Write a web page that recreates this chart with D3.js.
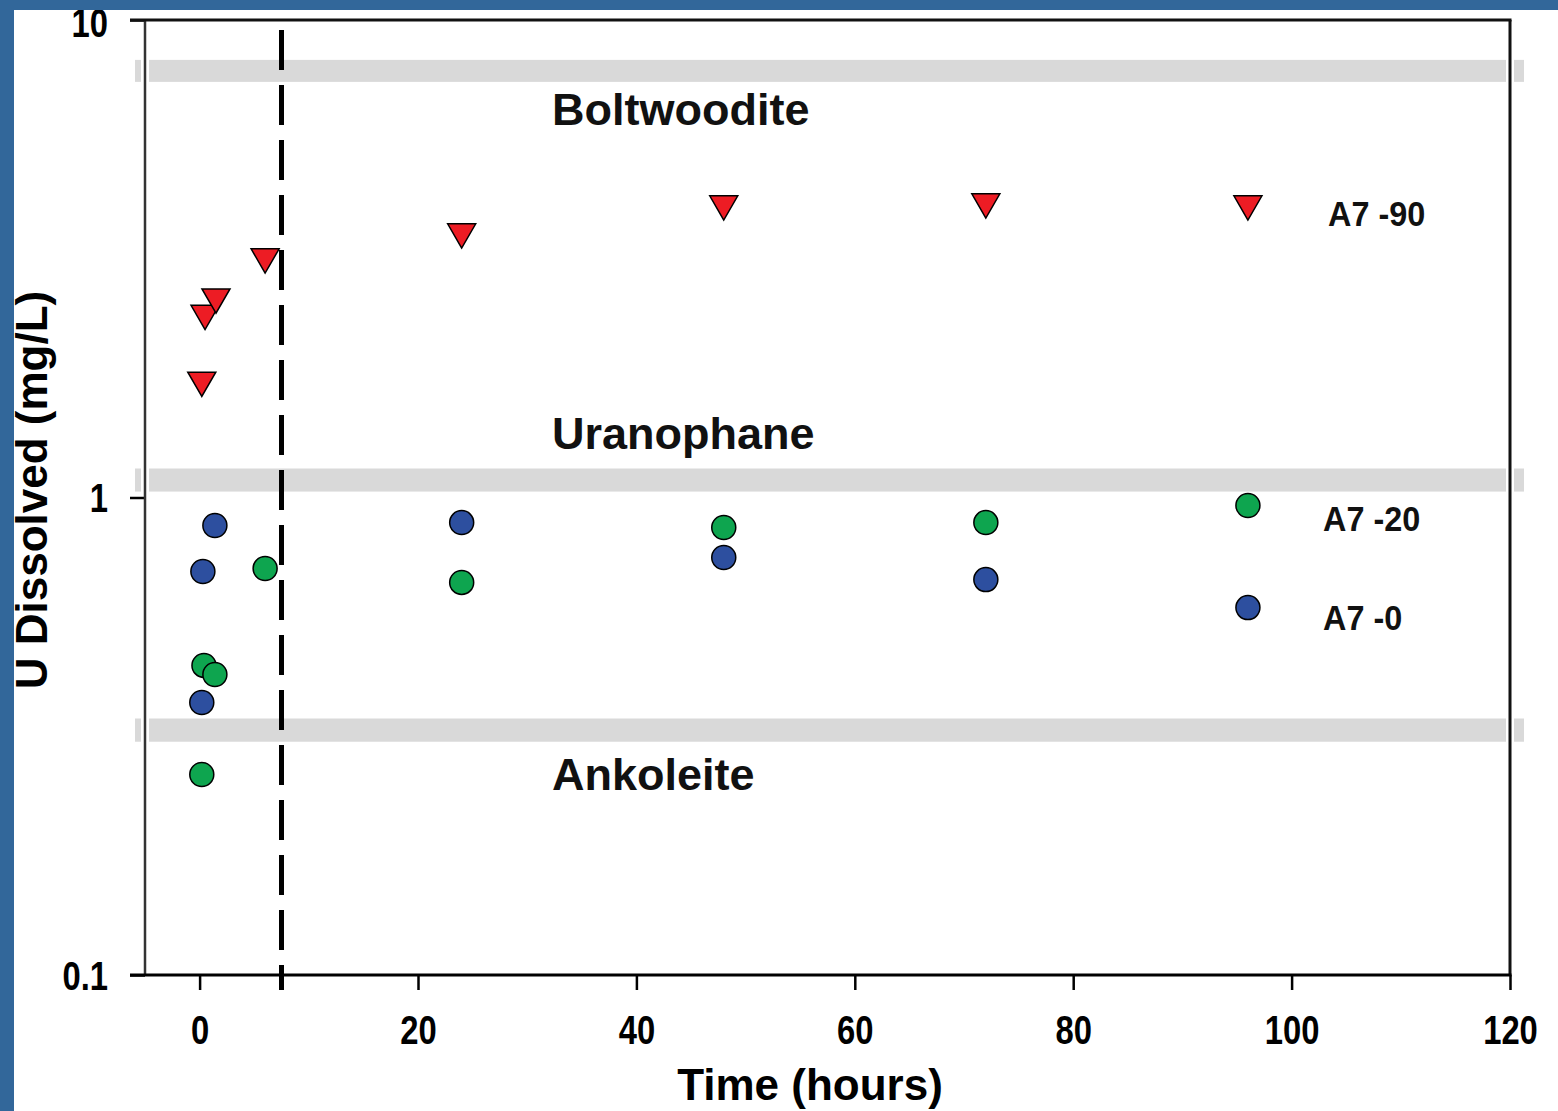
<!DOCTYPE html>
<html>
<head>
<meta charset="utf-8">
<script src="https://cdn.jsdelivr.net/npm/d3@7"></script>
<style>
  html, body { margin: 0; padding: 0; background: #ffffff; }
  svg { display: block; }
</style>
</head>
<body>
<svg id="chart" width="1558" height="1111"></svg>
<script>
// ---------- data ----------
const xTicks = [0, 20, 40, 60, 80, 100, 120];
const yTicks = [0.1, 1, 10];
const yTickLabels = ["0.1", "1", "10"];

const timeA90 = [0.2, 0.5, 1.5, 6, 24, 48, 72, 96];
const uA90    = [1.76, 2.43, 2.63, 3.19, 3.60, 4.12, 4.16, 4.12];

const timeA20 = [0.2, 0.4, 1.4, 6, 24, 48, 72, 96];
const uA20    = [0.263, 0.445, 0.426, 0.710, 0.664, 0.865, 0.886, 0.962];

const timeA0  = [0.2, 0.3, 1.4, 24, 48, 72, 96];
const uA0     = [0.372, 0.700, 0.874, 0.886, 0.749, 0.673, 0.588];

const bandNames = ["Boltwoodite", "Uranophane", "Ankoleite"];
const bandLow   = [7.42, 1.029, 0.308];
const bandHigh  = [8.25, 1.15, 0.3445];

const seriesNames = ["A7 -90", "A7 -20", "A7 -0"];
const seriesLabelY = [3.94, 0.908, 0.561];

const dividerTime = 7.5;

// ---------- setup ----------
const svg = d3.select("#chart");
const x = d3.scaleLinear().domain([-5, 120]).range([145, 1510]);
const y = d3.scaleLog().domain([0.1, 10]).range([975, 20]);

const boldFont = "'Liberation Sans', Arial, sans-serif";

// bands
bandNames.forEach((name, i) => {
  svg.append("rect")
    .attr("x", x(-5) - 10)
    .attr("width", x(120) + 14 - (x(-5) - 10))
    .attr("y", y(bandHigh[i]))
    .attr("height", y(bandLow[i]) - y(bandHigh[i]))
    .attr("fill", "#d9d9d9");
});

// white gaps around vertical axes
[x(-5), x(120)].forEach(px => {
  svg.append("line").attr("x1", px).attr("x2", px).attr("y1", y(10)).attr("y2", y(0.1))
    .attr("stroke", "#fff").attr("stroke-width", 8);
});

// band labels
const bandLabelBase = [125, 449, 790];
const bandLabelX = 552;
bandNames.forEach((name, i) => {
  svg.append("text")
    .attr("x", bandLabelX)
    .attr("y", bandLabelBase[i])
    .attr("font-family", boldFont)
    .attr("font-weight", "bold")
    .attr("font-size", 45)
    .attr("fill", "#111")
    .text(name);
});

// dashed divider
svg.append("line")
  .attr("x1", x(dividerTime)).attr("x2", x(dividerTime))
  .attr("y1", 30).attr("y2", 990)
  .attr("stroke", "#000").attr("stroke-width", 5)
  .attr("stroke-dasharray", "40,15");

// axes
const xAxis = d3.axisBottom(x).tickValues(xTicks).tickSize(15).tickSizeOuter(0).tickFormat(d3.format("d"));
const gx = svg.append("g").attr("transform", "translate(0,975)").call(xAxis);
gx.select(".domain").remove();
gx.selectAll(".tick line").attr("stroke", "#000").attr("stroke-width", 2.5);
gx.selectAll(".tick text")
  .attr("y", 0).attr("dy", 0)
  .attr("transform", "translate(0,69) scale(0.82,1)")
  .attr("font-family", boldFont).attr("font-weight", "bold").attr("font-size", 40).attr("fill", "#000");

const yAxis = d3.axisLeft(y).tickValues(yTicks).tickSize(15).tickSizeOuter(0)
  .tickFormat((d, i) => yTickLabels[i]);
const gy = svg.append("g").attr("transform", "translate(145,0)").call(yAxis);
gy.select(".domain").remove();
gy.selectAll(".tick line").attr("stroke", "#000").attr("stroke-width", 2.5);
gy.selectAll(".tick text")
  .attr("x", 0).attr("dy", 0)
  .attr("transform", d => d === 10 ? "translate(-37,16) scale(0.82,1)" : "translate(-37,14) scale(0.82,1)")
  .attr("font-family", boldFont).attr("font-weight", "bold").attr("font-size", 40).attr("fill", "#000");

// frame
svg.append("line").attr("x1", x(-5)).attr("x2", x(-5)).attr("y1", y(10)).attr("y2", y(0.1))
  .attr("stroke", "#333").attr("stroke-width", 2.5);
svg.append("line").attr("x1", x(120)).attr("x2", x(120)).attr("y1", y(10)).attr("y2", y(0.1))
  .attr("stroke", "#111").attr("stroke-width", 3);
svg.append("line").attr("x1", 130).attr("x2", x(120) + 1.5).attr("y1", y(10)).attr("y2", y(10))
  .attr("stroke", "#111").attr("stroke-width", 3);
svg.append("line").attr("x1", 130).attr("x2", x(120) + 1.5).attr("y1", y(0.1)).attr("y2", y(0.1))
  .attr("stroke", "#000").attr("stroke-width", 3);

// markers
const tri = d3.symbol().type(d3.symbolTriangle).size(340);
svg.append("g").selectAll("path")
  .data(timeA90.map((t, i) => [t, uA90[i]]))
  .join("path")
  .attr("d", tri)
  .attr("transform", d => `translate(${x(d[0])},${y(d[1])}) rotate(180)`)
  .attr("fill", "#ed1c24").attr("stroke", "#000").attr("stroke-width", 1.5);

svg.append("g").selectAll("circle")
  .data(timeA0.map((t, i) => [t, uA0[i]]))
  .join("circle")
  .attr("cx", d => x(d[0])).attr("cy", d => y(d[1])).attr("r", 12)
  .attr("fill", "#2d4f9f").attr("stroke", "#000").attr("stroke-width", 1.5);

svg.append("g").selectAll("circle")
  .data(timeA20.map((t, i) => [t, uA20[i]]))
  .join("circle")
  .attr("cx", d => x(d[0])).attr("cy", d => y(d[1])).attr("r", 12)
  .attr("fill", "#0ea54f").attr("stroke", "#000").attr("stroke-width", 1.5);

// series labels
const seriesLabelX = [1328, 1323, 1323];
seriesNames.forEach((name, i) => {
  svg.append("text")
    .attr("transform", `translate(${seriesLabelX[i]},${y(seriesLabelY[i]) + 13}) scale(0.9,1)`)
    .attr("font-family", boldFont).attr("font-weight", "bold").attr("font-size", 36)
    .attr("fill", "#111")
    .text(name);
});

// axis titles
svg.append("text")
  .attr("x", 810).attr("y", 1100)
  .attr("text-anchor", "middle")
  .attr("font-family", boldFont).attr("font-weight", "bold").attr("font-size", 44)
  .attr("fill", "#000")
  .text("Time (hours)");

svg.append("text")
  .attr("transform", "translate(47,490) rotate(-90)")
  .attr("text-anchor", "middle")
  .attr("font-family", boldFont).attr("font-weight", "bold").attr("font-size", 44)
  .attr("fill", "#000")
  .text("U Dissolved (mg/L)");

// slide frame (blue border top & left)
svg.append("rect").attr("x", 0).attr("y", 0).attr("width", 1558).attr("height", 10).attr("fill", "#32679a");
svg.append("rect").attr("x", 0).attr("y", 0).attr("width", 14).attr("height", 1111).attr("fill", "#32679a");
</script>
</body>
</html>
